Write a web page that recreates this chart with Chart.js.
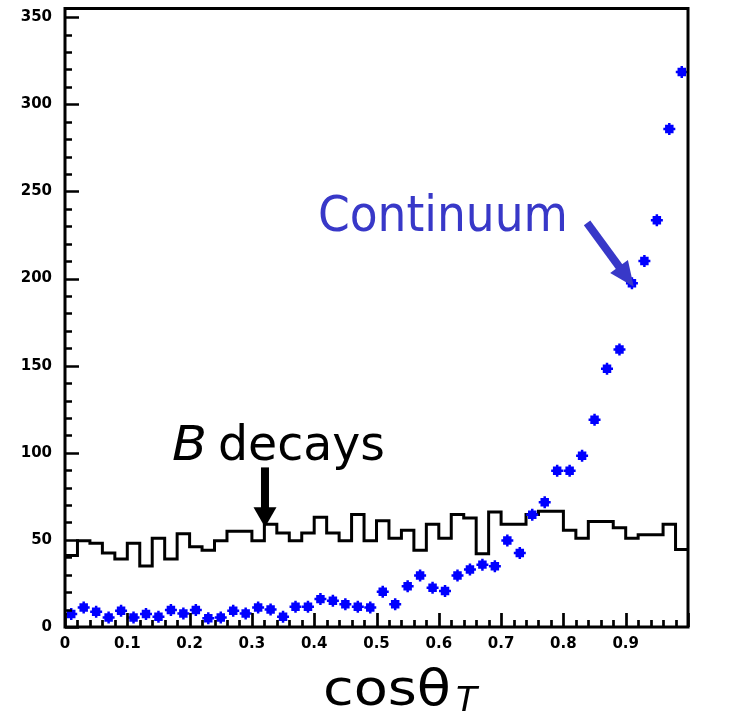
<!DOCTYPE html>
<html><head><meta charset="utf-8">
<script src="https://cdn.jsdelivr.net/npm/chart.js@4/dist/chart.umd.min.js"></script>
<style>html,body{margin:0;padding:0;background:#fff;}#wrap{width:750px;height:716px;position:relative;}</style>
</head><body><div id="wrap"><canvas id="c"></canvas></div>
<script>
// Bin edges of the cos(theta_T) histogram (50 bins)
const binEdges = [0,0.02,0.04,0.06,0.08,0.1,0.12,0.14,0.16,0.18,0.2,0.22,0.24,0.26,0.28,0.3,0.32,0.34,0.36,0.38,0.4,0.42,0.44,0.46,0.48,0.5,0.52,0.54,0.56,0.58,0.6,0.62,0.64,0.66,0.68,0.7,0.72,0.74,0.76,0.78,0.8,0.82,0.84,0.86,0.88,0.9,0.92,0.94,0.96,0.98,1.0];
// B decays histogram (black)
const bDecays = [41,49.5,48,42.5,39,48,35,51,39,53.5,46,44,49.5,55,55,49.5,59,54,49.5,54,63,54,49.5,64.5,49.5,61,51,55.5,44,59,51,64.5,62.5,42,66,59,59,64.5,66.5,66.5,55.5,51,60.5,60.5,57,51,53,53,59,44.5];
// Bin centers for the continuum points
const binCenters = [0.01,0.03,0.05,0.07,0.09,0.11,0.13,0.15,0.17,0.19,0.21,0.23,0.25,0.27,0.29,0.31,0.33,0.35,0.37,0.39,0.41,0.43,0.45,0.47,0.49,0.51,0.53,0.55,0.57,0.59,0.61,0.63,0.65,0.67,0.69,0.71,0.73,0.75,0.77,0.79,0.81,0.83,0.85,0.87,0.89,0.91,0.93,0.95,0.97,0.99];
// Continuum (blue points)
const continuum = [7.4,11.2,8.8,5.5,9.3,5.5,7.4,5.9,9.7,7.8,9.7,5,5.5,9.3,7.8,11.2,10.1,5.9,11.6,11.6,16,15,13.1,11.6,11.2,20.2,13.1,23.4,29.5,22.5,20.6,29.5,33,35.8,34.9,49.7,42.5,64.4,71.6,89.7,89.7,98.3,118.9,148.2,159.3,197.3,210.1,233.5,285.8,318.5];
const xTickValues = [0,0.1,0.2,0.3,0.4,0.5,0.6,0.7,0.8,0.9];
const yTickValues = [0,50,100,150,200,250,300,350];
const xTickLabels = ['0','0.1','0.2','0.3','0.4','0.5','0.6','0.7','0.8','0.9'];

const histData = binEdges.map((e,i)=>({x:e, y:bDecays[Math.min(i,bDecays.length-1)]}));
const ptData = binCenters.map((c,i)=>({x:c, y:continuum[i]}));
const BLUE='#0000ff', ANN_BLUE='#3838c8';

function fitText(ctx, text, x, y, font, width, color){
  ctx.save(); ctx.font=font; ctx.fillStyle=color; ctx.textAlign='left'; ctx.textBaseline='alphabetic';
  const w=ctx.measureText(text).width; const s=width? width/w:1;
  ctx.translate(x,y); ctx.scale(s,1); ctx.fillText(text,0,0); ctx.restore();
}
function arrow(ctx,x1,y1,x2,y2,shaftW,headL,headW,color){
  const ang=Math.atan2(y2-y1,x2-x1), L=Math.hypot(x2-x1,y2-y1);
  ctx.save(); ctx.translate(x2,y2); ctx.rotate(ang); ctx.fillStyle=color;
  ctx.fillRect(-L,-shaftW/2,L-headL+1,shaftW);
  ctx.beginPath(); ctx.moveTo(0,0); ctx.lineTo(-headL,-headW/2); ctx.lineTo(-headL,headW/2); ctx.closePath(); ctx.fill();
  ctx.restore();
}

const framePlugin = {
  id:'frame',
  afterDraw(chart){
    const ctx=chart.ctx, a=chart.chartArea, xs=chart.scales.x, ys=chart.scales.y;
    ctx.save();
    ctx.strokeStyle='#000'; ctx.lineWidth=3;
    ctx.strokeRect(a.left,a.top,a.right-a.left,a.bottom-a.top);
    ctx.lineWidth=2.7; ctx.beginPath();
    for(let i=0;i<=50;i++){
      const v=i*0.02, px=Math.round(xs.getPixelForValue(v))+0.5;
      const len=(i%5===0)?14:7;
      ctx.moveTo(px,a.bottom); ctx.lineTo(px,a.bottom-len);
    }
    for(let v=0;v<=350;v+=10){
      const py=Math.round(ys.getPixelForValue(v))+0.5;
      const len=(v%50===0)?14:7;
      ctx.moveTo(a.left,py); ctx.lineTo(a.left+len,py);
    }
    ctx.stroke();
    ctx.restore();
    // annotations
    const X=v=>xs.getPixelForValue(v), Y=v=>ys.getPixelForValue(v);
    fitText(ctx,'Continuum',X(0.406),Y(227.4),'50px "DejaVu Sans"',250,ANN_BLUE);
    arrow(ctx,X(0.838),Y(232),X(0.913),Y(195.3),8,25,22,ANN_BLUE);
    fitText(ctx,'B',X(0.1717),Y(95.6),'oblique 48px "DejaVu Sans"',35,'#000');
    fitText(ctx,'decays',X(0.2456),Y(95.6),'48px "DejaVu Sans"',167,'#000');
    arrow(ctx,X(0.321),Y(91.6),X(0.321),Y(57.3),8,20,23,'#000');
    // x title
    fitText(ctx,'cosθ',323,705,'50px "DejaVu Sans"',128,'#000');
    fitText(ctx,'T',456,711,'oblique 33px "DejaVu Sans"',21,'#000');
  }
};

new Chart(document.getElementById('c'),{
  type:'scatter',
  data:{datasets:[
    {type:'line',label:'B decays',data:histData,stepped:'before',borderColor:'#000',borderWidth:3,pointRadius:0,fill:false,order:3},
    {label:'Continuum err',data:ptData,pointStyle:'cross',pointRadius:6,borderColor:BLUE,borderWidth:2.5,backgroundColor:BLUE,order:2},
    {label:'Continuum',data:ptData,pointStyle:'rect',pointRadius:6,borderWidth:0,backgroundColor:BLUE,borderColor:BLUE,order:1}
  ]},
  options:{
    responsive:true,maintainAspectRatio:false,animation:false,devicePixelRatio:1,
    layout:{padding:{top:7,right:62,left:0,bottom:0}},
    plugins:{legend:{display:false},tooltip:{enabled:false}},
    scales:{
      x:{type:'linear',min:0,max:1,
        grid:{display:false,drawTicks:false},border:{display:false},
        afterBuildTicks(s){s.ticks=xTickValues.map(v=>({value:v}));},
        afterFit(s){s.height=89;s.paddingLeft=0;s.paddingRight=0;},
        ticks:{padding:8,color:'#000',font:{family:'"DejaVu Sans"',size:15,weight:'bold'},maxRotation:0,autoSkip:false,
          callback(v){const i=xTickValues.indexOf(v);return i>=0?xTickLabels[i]:'';}}},
      y:{type:'linear',min:0,max:355,
        grid:{display:false,drawTicks:false},border:{display:false},
        afterBuildTicks(s){s.ticks=yTickValues.map(v=>({value:v}));},
        afterFit(s){s.width=65;s.paddingTop=0;s.paddingBottom=0;},
        ticks:{padding:13,color:'#000',font:{family:'"DejaVu Sans"',size:15,weight:'bold'},autoSkip:false}}
    }
  },
  plugins:[framePlugin]
});
</script></body></html>
